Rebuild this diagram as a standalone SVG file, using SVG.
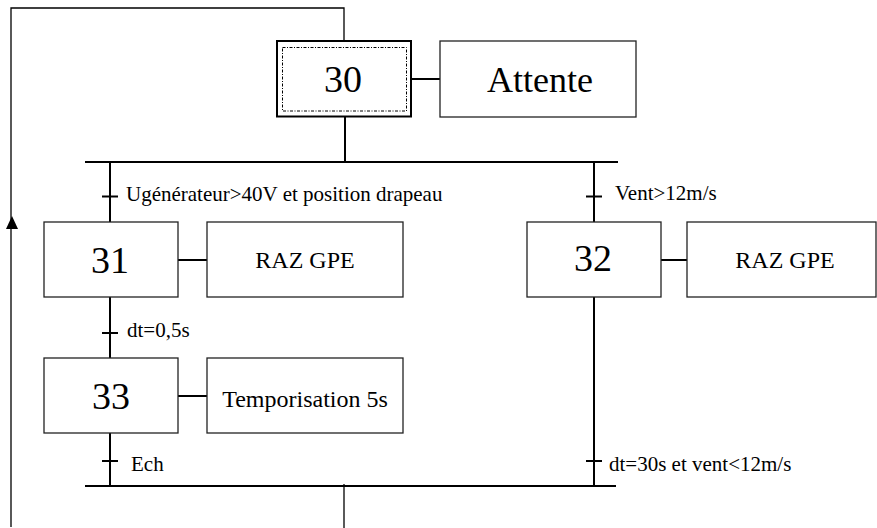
<svg xmlns="http://www.w3.org/2000/svg" width="877" height="528" viewBox="0 0 877 528">
<style>
.box{fill:#fff;stroke:#222;stroke-width:1.3}
.w{stroke:#000;stroke-width:2;fill:none}
.thin{stroke:#000;stroke-width:1.3;fill:none}
text{font-family:'Liberation Serif','Times New Roman',Tinos,'DejaVu Serif',serif;fill:#000}
.num{font-size:38px;text-anchor:middle}
.act{font-size:24px;text-anchor:middle}
.lbl{font-size:21px}
</style>
<rect width="877" height="528" fill="#fff"/>
<g id="connectors">
<path class="thin" d="M344,41 V8 H11 V527"/>
<path d="M12,229 L6,229 L12,216 L18,229 Z" fill="#000"/>
<path class="w" d="M345,117 V162"/>
<path class="w" d="M85,162 H618"/>
<path class="w" d="M110,162 V222"/>
<path class="w" d="M102,196.5 H118"/>
<path class="w" d="M594,162 V222"/>
<path class="w" d="M586,196.5 H602"/>
<path class="w" d="M110,297 V358"/>
<path class="w" d="M102,333 H118"/>
<path class="w" d="M110,433 V486"/>
<path class="w" d="M102,461 H118"/>
<path class="w" d="M594,297 V486"/>
<path class="w" d="M586,461 H602"/>
<path class="w" d="M85,486 H616"/>
<path class="thin" d="M344,484 V528"/>
<path class="w" d="M411,79 H440"/>
<path class="w" d="M178,260 H207"/>
<path class="w" d="M661,260 H687"/>
<path class="w" d="M178,396 H207"/>
<text class="lbl" x="126" y="201">Ugénérateur&gt;40V et position drapeau</text>
<text class="lbl" x="615" y="200">Vent&gt;12m/s</text>
<text class="lbl" x="127" y="337">dt=0,5s</text>
<text class="lbl" x="131" y="471">Ech</text>
<text class="lbl" x="609" y="471">dt=30s et vent&lt;12m/s</text>
</g>
<g id="step30">
<rect x="277" y="41" width="134" height="75.5" fill="#fff" stroke="#000" stroke-width="2"/>
<rect x="282.5" y="47.5" width="124" height="63.5" fill="none" stroke="#000" stroke-width="1" stroke-dasharray="3,1.5,1,1.5"/>
<text class="num" x="343" y="92">30</text>
</g>
<g id="action30">
<rect class="box" x="440" y="41" width="196" height="76"/>
<text x="540" y="92" font-size="36" text-anchor="middle">Attente</text>
</g>
<g id="step31">
<rect class="box" x="44" y="222" width="134" height="75"/>
<text class="num" x="110" y="273">31</text>
</g>
<g id="action31">
<rect class="box" x="207" y="222" width="196" height="75"/>
<text class="act" x="305" y="268">RAZ GPE</text>
</g>
<g id="step32">
<rect class="box" x="527" y="222" width="134" height="75"/>
<text class="num" x="593" y="271">32</text>
</g>
<g id="action32">
<rect class="box" x="687" y="222" width="189" height="75"/>
<text class="act" x="785" y="268">RAZ GPE</text>
</g>
<g id="step33">
<rect class="box" x="44" y="358" width="134" height="75"/>
<text class="num" x="111" y="409">33</text>
</g>
<g id="action33">
<rect class="box" x="207" y="358" width="196" height="75"/>
<text class="act" x="305" y="407">Temporisation 5s</text>
</g>
</svg>
